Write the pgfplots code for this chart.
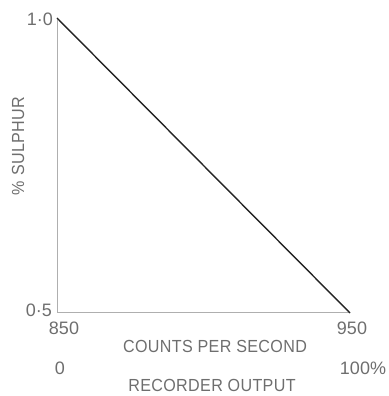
\documentclass[border=0pt]{standalone}
\usepackage{fontspec}
\setmainfont{Liberation Sans}
\newfontfamily\lab[FakeStretch=0.92, LetterSpace=2]{Liberation Sans}
\usepackage{pgfplots}
\pgfplotsset{compat=1.18}
\definecolor{txt}{RGB}{110,110,110}
\definecolor{axc}{RGB}{175,175,175}
\definecolor{ln}{RGB}{35,35,35}
\begin{document}
\begin{tikzpicture}[x=1pt,y=1pt]
\path[use as bounding box] (-57,-83) rectangle (331,313);
\begin{axis}[
  at={(0,0)}, anchor=south west,
  scale only axis, width=293pt, height=295pt,
  xmin=850, xmax=950, ymin=0.5, ymax=1.0,
  axis x line*=bottom, axis y line*=left,
  axis line style={-, draw=axc, line width=1pt},
  xtick=\empty, ytick=\empty,
  clip=false,
]
\addplot[ln, line width=1.4pt] coordinates {(850,1.0) (950,0.5)};
\end{axis}
\begin{scope}[every node/.style={text=txt, inner sep=0pt, font=\fontsize{18}{18}\selectfont}]
\node[anchor=east] at (-4,294) {1·0};
\node[anchor=east] at (-5,3) {0·5};
\node at (7,-15) {850};
\node at (295,-15) {950};
\node[font=\lab\fontsize{17.5}{17.5}\selectfont] at (158,-33) {COUNTS PER SECOND};
\node at (3,-55) {0};
\node at (306,-55) {100\%};
\node[font=\lab\fontsize{17.5}{17.5}\selectfont] at (155,-72) {RECORDER OUTPUT};
\node[rotate=90, font=\lab\fontsize{17.5}{17.5}\selectfont] at (-39,167) {\% SULPHUR};
\end{scope}
\end{tikzpicture}
\end{document}
